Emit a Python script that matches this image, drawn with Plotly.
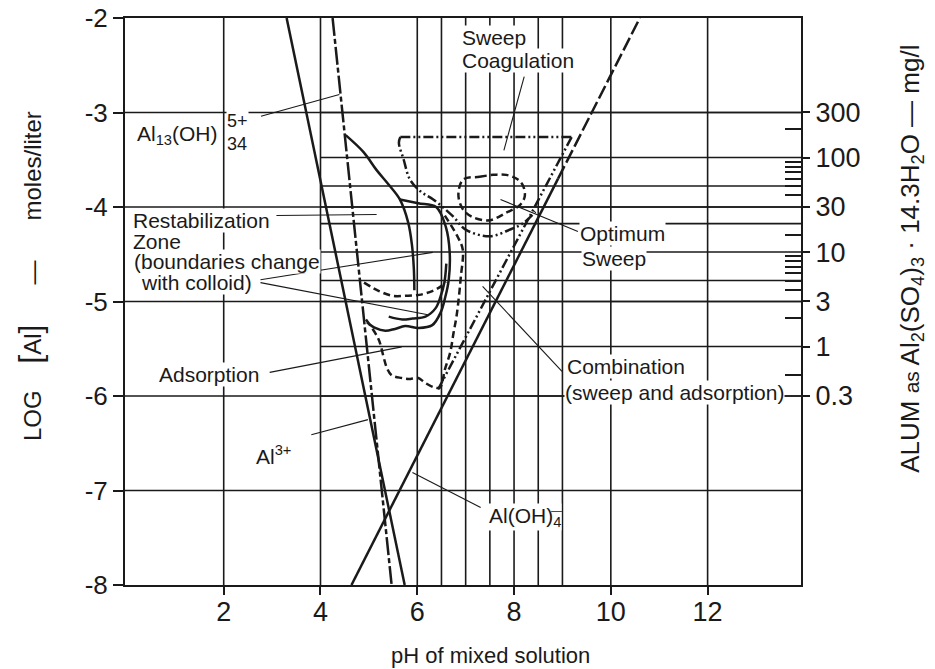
import math
import plotly.graph_objects as go

# ---------------- data (pH, log[Al] in mol/l) ----------------
al3_ph = [3.30, 5.74]
al3_log = [-2.0, -8.0]

al13_ph = [4.25, 5.47]
al13_log = [-2.0, -8.0]

aloh4_ph = [4.64, 8.91]
aloh4_log = [-8.0, -3.70]
aloh4_upper_ph = [8.91, 10.60]
aloh4_upper_log = [-3.70, -2.0]

sweep_top_ph = [5.65, 9.19]
sweep_top_log = [-3.26, -3.26]
sweep_left_ph = [5.65, 5.62, 5.72, 5.85, 6.08, 6.33, 6.74, 7.00, 7.50, 7.91, 8.19, 8.44]
sweep_left_log = [-3.26, -3.32, -3.50, -3.71, -3.84, -3.92, -4.10, -4.24, -4.31, -4.24, -4.17, -4.05]
sweep_right_ph = [9.19, 6.43]
sweep_right_log = [-3.26, -5.93]

optimum_ph = [6.95, 7.29, 7.57, 7.84, 8.08, 8.19, 8.22, 8.12, 7.84, 7.50, 7.16, 6.95, 6.85, 6.95]
optimum_log = [-3.71, -3.68, -3.66, -3.66, -3.71, -3.78, -3.89, -3.98, -4.06, -4.14, -4.11, -4.03, -3.87, -3.71]

restab_arc_ph = [4.52, 4.89, 5.16, 5.42, 5.64, 5.81, 5.89, 5.93, 5.94]
restab_arc_log = [-3.24, -3.42, -3.61, -3.77, -3.92, -4.16, -4.40, -4.66, -4.88]
restab_branch_ph = [5.64, 6.02, 6.39, 6.59, 6.67, 6.65, 6.58, 6.48, 6.31, 6.03, 5.75, 5.54, 5.34, 5.13, 4.96]
restab_branch_log = [-3.92, -3.96, -4.00, -4.21, -4.48, -4.77, -4.95, -5.12, -5.25, -5.28, -5.26, -5.29,
                     -5.31, -5.28, -5.22]
restab_inner_ph = [5.41, 5.69, 5.90, 6.17, 6.38, 6.48, 6.56, 6.60]
restab_inner_log = [-5.16, -5.19, -5.18, -5.16, -5.07, -4.95, -4.80, -4.60]

adsorb_arc_ph = [4.90, 5.21, 5.49, 5.76, 6.04, 6.31, 6.49, 6.59]
adsorb_arc_log = [-4.80, -4.89, -4.94, -4.94, -4.93, -4.89, -4.84, -4.79]

combo_ph = [4.94, 5.20, 5.30, 5.37, 5.47, 5.68, 5.82, 6.02, 6.16, 6.36, 6.47, 6.57, 6.68, 6.75,
            6.81, 6.86, 6.90, 6.94, 6.84, 6.53]
combo_log = [-5.19, -5.40, -5.58, -5.70, -5.78, -5.81, -5.82, -5.81, -5.86, -5.91, -5.91, -5.72,
             -5.54, -5.33, -5.16, -4.95, -4.74, -4.45, -4.32, -4.06]

# grid
grid_ph_full = [2, 4, 6, 6.5, 7, 7.5, 8, 8.5, 9, 10, 12]
grid_log_full = [-3, -4, -5, -6, -7]
alum_grid_mg = [300, 100, 50, 30, 20, 10, 5, 3, 1, 0.3]
alum_major_mg = [300, 100, 30, 10, 3, 1, 0.3]
alum_minor_mg = [200, 90, 80, 70, 60, 50, 40, 15, 9, 8, 7, 6, 5, 4, 2, 0.5]

x_ticks = [2, 4, 6, 8, 10, 12]
y_ticks = [-2, -3, -4, -5, -6, -7, -8]

# alum (Al2(SO4)3.14.3H2O, 2 Al per formula) mg/l -> log mol Al /l
ALUM_OFFSET = math.log10(2 / 599.8e3)


def alum_log(mg):
    return math.log10(mg) + ALUM_OFFSET


FONT = "Liberation Sans, Arial, sans-serif"
INK = "#1a1a1a"
X_RANGE = [-0.04, 13.93]
Y_RANGE = [-8, -2]
NB = "\u00a0"

fig = go.Figure()


def curve(x, y, dash="solid", width=2.5, shape="linear"):
    fig.add_trace(go.Scatter(
        x=x, y=y, mode="lines", showlegend=False, hoverinfo="skip",
        line=dict(color=INK, width=width, dash=dash, shape=shape),
    ))


curve(al3_ph, al3_log)
curve(al13_ph, al13_log, dash="18px,3px,5px,3px")
curve(aloh4_ph, aloh4_log)
curve(aloh4_upper_ph, aloh4_upper_log, dash="14px,4px")

dash_dot_dot = "10px,3px,2px,3px,2px,3px"
curve(sweep_top_ph, sweep_top_log, dash=dash_dot_dot)
curve(sweep_left_ph, sweep_left_log, dash=dash_dot_dot, shape="spline")
curve(sweep_right_ph, sweep_right_log, dash=dash_dot_dot)
curve(optimum_ph, optimum_log, dash="7px,4px", shape="spline")
curve(restab_arc_ph, restab_arc_log, shape="spline")
curve(restab_branch_ph, restab_branch_log, shape="spline")
curve(restab_inner_ph, restab_inner_log, shape="spline")
curve(adsorb_arc_ph, adsorb_arc_log, dash="7px,4px", shape="spline")
curve(combo_ph, combo_log, dash="7px,4px", shape="spline")

# invisible trace so the alum axis is drawn
fig.add_trace(go.Scatter(x=[None], y=[None], yaxis="y2", showlegend=False))

# grid lines
GRID = dict(color=INK, width=1.6)
shapes = []
for p in grid_ph_full:
    shapes.append(dict(type="line", xref="x", yref="y", x0=p, x1=p, y0=Y_RANGE[0], y1=Y_RANGE[1],
                       line=GRID, layer="below"))
for v in grid_log_full:
    shapes.append(dict(type="line", xref="x", yref="y", x0=X_RANGE[0], x1=X_RANGE[1], y0=v, y1=v,
                       line=GRID, layer="below"))
for mg in alum_grid_mg:
    v = alum_log(mg)
    shapes.append(dict(type="line", xref="x", yref="y", x0=4, x1=X_RANGE[1], y0=v, y1=v,
                       line=GRID, layer="below"))

# leader lines (label end -> curve)
LEADERS = [
    (2.77, -3.04, 4.39, -2.81),   # Al13(OH)34
    (3.09, -4.09, 5.16, -4.08),   # Restabilization
    (2.76, -4.77, 6.32, -4.48),   # boundaries 1
    (2.76, -4.80, 6.22, -5.14),   # boundaries 2
    (2.95, -5.75, 5.68, -5.48),   # Adsorption
    (3.81, -6.41, 4.98, -6.25),   # Al3+
    (7.31, -7.18, 5.90, -6.81),   # Al(OH)4
    (8.21, -2.62, 7.79, -3.40),   # Sweep coagulation
    (7.72, -3.92, 9.32, -4.26),   # Optimum sweep
    (7.35, -4.84, 8.99, -5.74),   # Combination
]
for x0, y0, x1, y1 in LEADERS:
    shapes.append(dict(type="line", xref="x", yref="y", x0=x0, y0=y0, x1=x1, y1=y1,
                       line=dict(color=INK, width=1.1)))

annotations = []


def label(text, x, y, size=21, xanchor="left", bg="white"):
    annotations.append(dict(
        text=text, x=x, y=y, xref="x", yref="y", showarrow=False,
        xanchor=xanchor, yanchor="middle", align="left",
        font=dict(family=FONT, size=size, color=INK),
        bgcolor=bg, borderpad=0,
    ))


CLEAR = "rgba(0,0,0,0)"
label("Al<sub>13</sub>(OH)", 0.19, -3.24)
label("5+<br>34", 2.05, -3.21, size=18)
label("Restabilization", 0.10, -4.14)
label("Zone", 0.10, -4.36, bg=CLEAR)
label("(boundaries change", 0.12, -4.58)
label("with colloid)", 0.27, -4.80)
label("Adsorption", 0.64, -5.77)
label("Al<sup>3+</sup>", 2.64, -6.62)
label("Al(OH)<sub>4</sub>", 7.46, -7.28)
label("\u2014", 8.87, -7.205, size=11, xanchor="center", bg=CLEAR)
label("Sweep", 6.90, -2.21)
label("Coagulation", 6.90, -2.45)
label("Optimum", 9.34, -4.28)
label("Sweep", 9.38, -4.54)
label("Combination", 9.07, -5.69)
label("(sweep and adsorption)", 9.03, -5.96)

# axis titles (positions in paper units of the 676 x 567 px plot area)
annotations.append(dict(
    text="LOG" + NB * 4 + "<span style='font-size:32px'>[</span>Al<span style='font-size:32px'>]</span>"
         + NB * 6 + "\u2014" + NB * 6 + "moles/liter",
    xref="paper", yref="paper", x=-0.1405, y=0.545, showarrow=False, textangle=-90,
    xanchor="center", yanchor="middle",
    font=dict(family=FONT, size=24, color=INK),
))
annotations.append(dict(
    text="ALUM <span style='font-size:21px'>as</span> Al<sub>2</sub>(SO<sub>4</sub>)<sub>3</sub>"
         " \u00b7 14.3H<sub>2</sub>O \u2014 mg/l",
    xref="paper", yref="paper", x=1.164, y=0.575, showarrow=False, textangle=-90,
    xanchor="center", yanchor="middle",
    font=dict(family=FONT, size=26, color=INK),
))
annotations.append(dict(
    text="pH of mixed solution", xref="paper", yref="paper", x=0.54, y=-0.1235,
    xanchor="center", yanchor="middle",
    showarrow=False, font=dict(family=FONT, size=22, color=INK),
))

TICKFONT = dict(family=FONT, size=26, color=INK)

fig.update_layout(
    width=935, height=669,
    # page body adds an 8 px offset; plot area ends up at x 125-801, y 18-585
    margin=dict(l=117, r=142, t=10, b=92),
    paper_bgcolor="white", plot_bgcolor="white",
    showlegend=False,
    shapes=shapes,
    annotations=annotations,
    xaxis=dict(
        range=X_RANGE, tickvals=x_ticks, ticktext=[str(t) for t in x_ticks],
        showgrid=False, zeroline=False, showline=True, mirror=True, automargin=False,
        linecolor=INK, linewidth=2, ticks="outside", ticklen=8, tickwidth=2, tickcolor=INK,
        tickfont=dict(family=FONT, size=27, color=INK), ticklabelstandoff=-6,
        ticklabeloverflow="allow",
    ),
    yaxis=dict(
        range=Y_RANGE, tickvals=y_ticks, ticktext=[str(t) for t in y_ticks],
        showgrid=False, zeroline=False, showline=True, mirror=True, automargin=False,
        linecolor=INK, linewidth=2, ticks="outside", ticklen=10, tickwidth=2, tickcolor=INK,
        tickfont=TICKFONT, ticklabeloverflow="allow",
    ),
    yaxis2=dict(
        range=Y_RANGE, overlaying="y", side="right", anchor="x", automargin=False,
        tickvals=[alum_log(m) for m in alum_major_mg],
        ticktext=[("%g" % m) for m in alum_major_mg],
        showgrid=False, zeroline=False, showline=False,
        ticks="outside", ticklen=8, tickwidth=2, tickcolor=INK,
        tickfont=dict(family=FONT, size=27, color=INK), ticklabeloverflow="allow",
        minor=dict(tickvals=[alum_log(m) for m in alum_minor_mg], ticks="inside",
                   ticklen=16, tickwidth=1.6, tickcolor=INK, showgrid=False),
    ),
)

fig.write_html("out.html")
